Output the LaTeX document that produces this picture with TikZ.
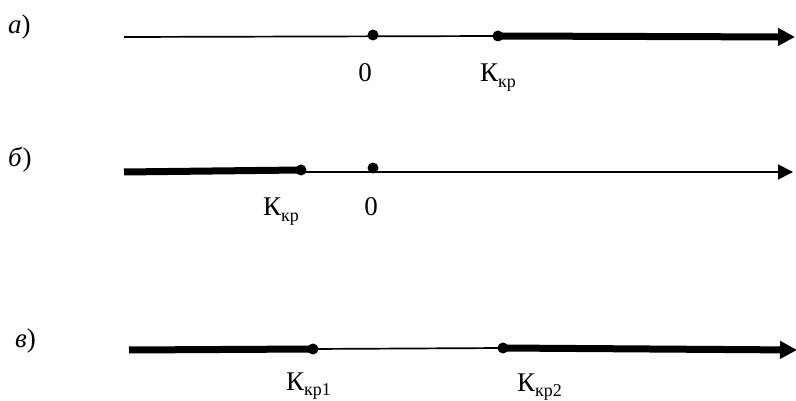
\documentclass[tikz,border=0pt]{standalone}
\usepackage{fontspec}
\setmainfont{Liberation Serif}
\usetikzlibrary{arrows.meta}
% critical-value symbol with a lowered, smaller subscript
\newcommand\Kkr[1]{К\raisebox{-0.2em}{\fontsize{18}{18}\selectfont #1}}
\begin{document}
\begin{tikzpicture}[x=1pt,y=-1pt,
  axisline/.style={line width=1.7pt},
  rayline/.style={line width=7pt},
  thintip/.style={-{Triangle[length=15pt,width=15pt]}},
  thicktip/.style={-{Triangle[length=17pt,width=17pt]}},
  dotpt/.style={circle,fill=black,inner sep=0pt,minimum size=11pt},
  lbl/.style={inner sep=0pt,anchor=base,font=\fontsize{27}{27}\selectfont},
  tag/.style={inner sep=0pt,anchor=base west,font=\fontsize{27}{27}\selectfont}]
\useasboundingbox (0,0) rectangle (796,401);

% ---- a) ----
\node[tag] (ta) at (8,34) {\textit{а})};
\coordinate (a0) at (124,37);
\coordinate (aend) at (795,37);
\node[dotpt] (az) at (373,35) {};
\node[dotpt] (ak) at (498,36) {};
\draw[axisline] (a0) -- (ak.center);
\draw[rayline,thicktip] (ak.center) -- (aend);
\node[lbl] (lz) at (365,82) {0};
\node[lbl,anchor=base west] (lk) at (480,82) {\Kkr{кр}};

% ---- б) ----
\node[tag] (tb) at (8,167) {\textit{б})};
\coordinate (b0) at (124,172);
\coordinate (bend) at (793,172);
\node[dotpt] (bk) at (301,170) {};
\node[dotpt] (bz) at (373,168) {};
\draw[axisline,thintip] (b0) -- (bend);
\draw[rayline] (b0) -- (bk.center);
\node[lbl,anchor=base west] (lbk) at (263,216) {\Kkr{кр}};
\node[lbl] (lbz) at (371,216) {0};

% ---- в) ----
\node[tag] (tc) at (15,347) {\textit{в})};
\coordinate (c0) at (129,350);
\coordinate (cend) at (797,350);
\node[dotpt] (c1) at (313,349) {};
\node[dotpt] (c2) at (503,348) {};
\draw[rayline] (c0) -- (c1.center);
\draw[axisline] (c1.center) -- (c2.center);
\draw[rayline,thicktip] (c2.center) -- (cend);
\node[lbl,anchor=base west] (lc1) at (286,390) {\Kkr{кр1}};
\node[lbl,anchor=base west] (lc2) at (517,391) {\Kkr{кр2}};
\end{tikzpicture}
\end{document}
